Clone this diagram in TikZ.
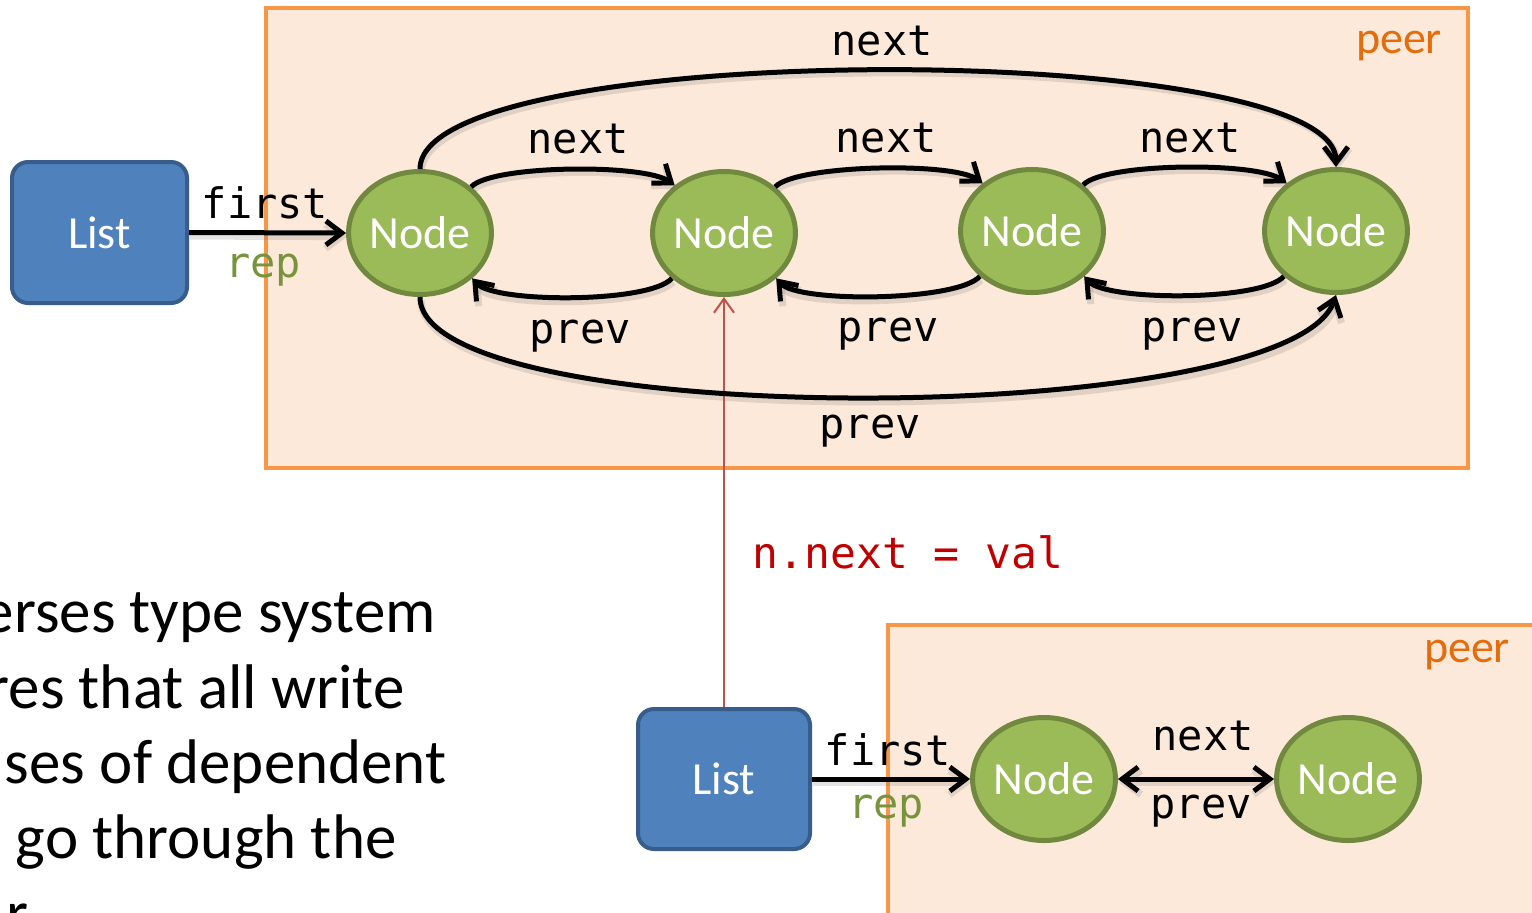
\documentclass[tikz,border=0pt]{standalone}
\usepackage{fontspec}
\setmainfont{Carlito}
\newfontfamily\codefont{DejaVu Sans Mono}
\usetikzlibrary{shapes.geometric,arrows.meta}

\definecolor{peerfill}{HTML}{FDE9D9}
\definecolor{peerline}{HTML}{F79646}
\definecolor{peertext}{HTML}{E46C0A}
\definecolor{listfill}{HTML}{4F81BD}
\definecolor{listline}{HTML}{385D8A}
\definecolor{nodefill}{HTML}{9BBB59}
\definecolor{nodeline}{HTML}{71893F}
\definecolor{reptext}{HTML}{77933C}
\definecolor{writeline}{HTML}{C0504D}
\definecolor{codered}{HTML}{C00000}

\tikzset{
  >={Straight Barb[length=8pt,width=12pt]},
  peerbox/.style={draw=peerline, fill=peerfill, line width=2pt},
  peerlabel/.style={text=peertext, font=\fontsize{23}{28}\selectfont, anchor=base, inner sep=0pt},
  listbox/.style={draw=listline, fill=listfill, line width=2pt, rounded corners=8pt,
    minimum width=87.5pt, minimum height=70.5pt, inner sep=0pt, text=white,
    font=\fontsize{23}{28}\selectfont},
  objnode/.style={ellipse, draw=nodeline, fill=nodefill, line width=2.5pt,
    minimum width=69.5pt, minimum height=61.5pt, inner sep=0pt, text=white,
    font=\fontsize{23}{28}\selectfont},
  softshadow/.style={preaction={draw=black!60, opacity=0.18, line width=3.5pt,
    transform canvas={shift={(0.6pt,-1.8pt)}}}},
  ptr/.style={line width=2.5pt, ->, softshadow},
  biptr/.style={line width=2.5pt, <->, softshadow},
  fieldlabel/.style={font=\codefont\fontsize{21}{25}\selectfont, anchor=base, inner sep=0pt},
  replabel/.style={fieldlabel, text=reptext},
  writeptr/.style={draw=writeline, line width=1pt, -{Straight Barb[length=7pt,width=10pt]}},
  bodytext/.style={font=\fontsize{31.5}{38}\selectfont, inner sep=0pt}
}

\begin{document}
\begin{tikzpicture}[x=0.5pt,y=0.5pt]
  \useasboundingbox (0,0) rectangle (1532,-912);
  \clip (0,0) rectangle (1532,-912);

  % ---------- upper list ----------
  \path[peerbox] (266,-8) rectangle (1468,-468);
  \node[peerlabel] (peerA) at (1399,-53) {peer};

  \node[listbox] (listA) at (99.5,-232.5) {List};
  \node[objnode] (n1) at (420,-233) {Node};
  \node[objnode] (n2) at (724,-233) {Node};
  \node[objnode] (n3) at (1032,-231) {Node};
  \node[objnode] (n4) at (1336,-231) {Node};

  % ---------- lower list ----------
  \path[peerbox] (888,-625) rectangle (1600,-1000);
  \node[peerlabel] (peerB) at (1467,-662) {peer};

  \node[listbox, minimum width=86pt, minimum height=70pt] (listB) at (724,-779) {List};
  \node[objnode] (n5) at (1044,-779) {Node};
  \node[objnode] (n6) at (1348,-779) {Node};

  % ---------- write across the boundary ----------
  \draw[writeptr] (listB.north) -- (n2.south);
  \node[font=\codefont\fontsize{21.5}{25}\selectfont, text=codered, anchor=base, inner sep=0pt]
    (write) at (908,-568) {n.next = val};

  % ---------- pointers of the upper list ----------
  \draw[ptr] (listA.east) -- (n1.west);
  \node[fieldlabel] (firstA) at (265,-218) {first};
  \node[replabel] (repA) at (263,-277) {rep};

  \draw[ptr] (n1.42) .. controls +(20,22) and +(-30,22) .. (n2.136);
  \draw[ptr] (n2.42) .. controls +(20,22) and +(-30,22) .. (n3.136);
  \draw[ptr] (n3.42) .. controls +(20,22) and +(-30,22) .. (n4.136);

  \draw[ptr] (n2.221) .. controls +(-22,-25) and +(22,-25) .. (n1.319);
  \draw[ptr] (n3.221) .. controls +(-22,-25) and +(22,-25) .. (n2.319);
  \draw[ptr] (n4.221) .. controls +(-22,-25) and +(22,-25) .. (n3.319);

  \draw[ptr] (n1.north) .. controls +(0,131) and +(0,129) .. (n4.north);
  \draw[ptr] (n1.south) .. controls +(0,-135) and +(-46,-135) .. (n4.south);

  \node[fieldlabel] (nextTop) at (882,-55) {next};
  \node[fieldlabel] (next12) at (578,-153) {next};
  \node[fieldlabel] (next23) at (886,-152) {next};
  \node[fieldlabel] (next34) at (1190,-152) {next};
  \node[fieldlabel] (prev21) at (580,-343) {prev};
  \node[fieldlabel] (prev32) at (888,-341) {prev};
  \node[fieldlabel] (prev43) at (1192,-341) {prev};
  \node[fieldlabel] (prevBot) at (870,-438) {prev};

  % ---------- pointers of the lower list ----------
  \draw[ptr] (listB.east) -- (n5.west);
  \node[fieldlabel] (firstB) at (888,-765) {first};
  \node[replabel] (repB) at (886,-818) {rep};

  \draw[biptr] (n5.east) -- (n6.west);
  \node[fieldlabel] (next56) at (1203,-750) {next};
  \node[fieldlabel] (prev56) at (1201,-818) {prev};

  % ---------- body text ----------
  \node[bodytext, anchor=base east] (line1) at (436,-632) {erses type system};
  \node[bodytext, anchor=base east] (line2) at (405,-708) {res that all write};
  \node[bodytext, anchor=base east] (line3) at (447,-783) {ses of dependent};
  \node[bodytext, anchor=base east] (line4) at (397,-858) {go through the};
  \node[bodytext, anchor=base west] (line5) at (6,-934) {r};
\end{tikzpicture}
\end{document}
